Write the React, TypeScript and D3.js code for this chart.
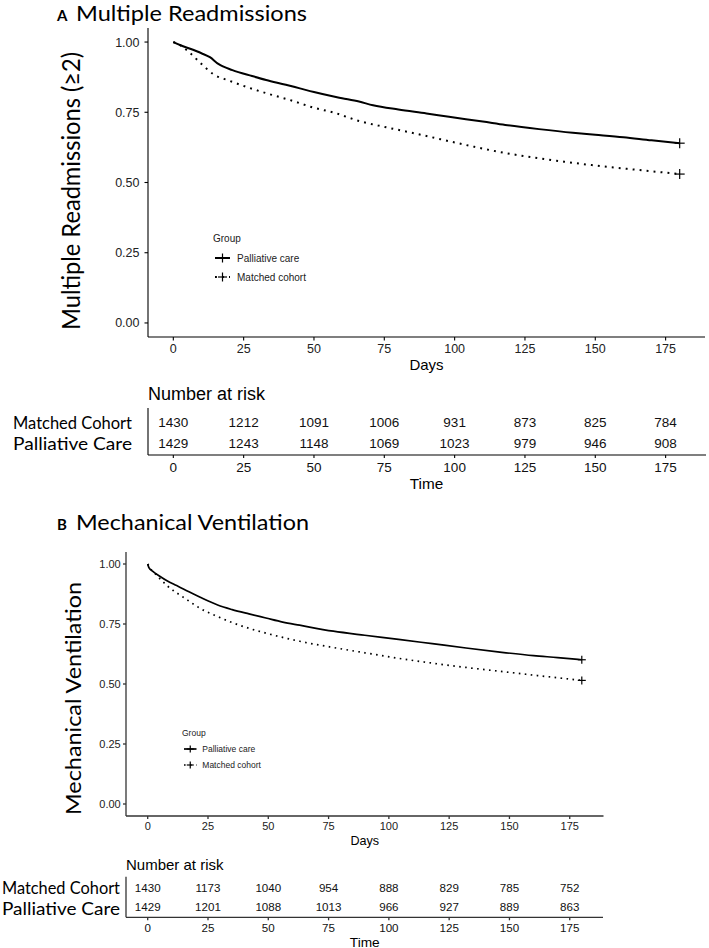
import React from 'react';
import * as d3 from 'd3';

// ---------------- data ----------------
const xTicks = [0, 25, 50, 75, 100, 125, 150, 175];
const yTicks = [0, 0.25, 0.5, 0.75, 1];
const riskTimes = [0, 25, 50, 75, 100, 125, 150, 175];
const groupNames = ['Palliative care', 'Matched cohort'];
const riskRowLabels = ['Matched Cohort', 'Palliative Care'];

// Panel A: Multiple readmissions (>=2)  [day, survival]
const readmitPalliative: [number, number][] = [
  [0, 1.0], [3, 0.987], [6, 0.976], [10, 0.96], [13, 0.946], [16, 0.922], [21, 0.9],
  [28, 0.879], [33, 0.865], [40, 0.848], [45, 0.835], [50, 0.822], [57, 0.806], [60, 0.8],
  [66, 0.788], [71, 0.775], [80, 0.76], [90, 0.746], [98, 0.734], [110, 0.717], [118, 0.705],
  [130, 0.69], [142, 0.677], [150, 0.67], [160, 0.661], [170, 0.65], [180, 0.64],
];
const readmitMatched: [number, number][] = [
  [0, 1.0], [3, 0.985], [5.5, 0.965], [10, 0.922], [14, 0.887], [20, 0.862], [27, 0.837],
  [35, 0.812], [42, 0.792], [50, 0.766], [57, 0.749], [66, 0.719], [75, 0.698], [83, 0.681],
  [95, 0.654], [107, 0.627], [118, 0.605], [130, 0.586], [142, 0.57], [154, 0.556],
  [165, 0.545], [180, 0.53],
];
const readmitRiskMatched = [1430, 1212, 1091, 1006, 931, 873, 825, 784];
const readmitRiskPalliative = [1429, 1243, 1148, 1069, 1023, 979, 946, 908];

// Panel B: Mechanical ventilation
const ventPalliative: [number, number][] = [
  [0, 1.0], [0.5, 0.985], [2, 0.97], [5, 0.949], [8, 0.93], [12, 0.91], [15, 0.895], [22, 0.86],
  [29, 0.829], [35, 0.81], [42, 0.792], [49, 0.775], [56, 0.758], [63, 0.745], [77, 0.72],
  [90, 0.703], [104, 0.686], [118, 0.668], [132, 0.65], [146, 0.633], [160, 0.618],
  [170, 0.61], [180, 0.601],
];
const ventMatched: [number, number][] = [
  [0, 1.0], [1.6, 0.975], [3.7, 0.953], [8, 0.91], [15, 0.86], [22, 0.814], [29, 0.781],
  [35, 0.756], [42, 0.732], [49, 0.712], [56, 0.694], [63, 0.678], [77, 0.652], [90, 0.63],
  [104, 0.607], [118, 0.587], [132, 0.569], [146, 0.553], [160, 0.537], [170, 0.526],
  [180, 0.515],
];
const ventRiskMatched = [1430, 1173, 1040, 954, 888, 829, 785, 752];
const ventRiskPalliative = [1429, 1201, 1088, 1013, 966, 927, 889, 863];

// ---------------- layout ----------------
const SANS = 'Liberation Sans, Arial, Helvetica, sans-serif';
const CAL = 'Lato, Carlito, Calibri, sans-serif';

const layoutA = {
  left: 148, right: 705, top: 28, bottom: 337,
  axisColor: '#000', axisW: 1.1,
  tickLen: 3.5, tickFont: 12.5, yLabRight: 139.5, xLabBase: 352.5,
  xTitle: 'Days', xTitleFont: 15, xTitleBase: 370,
  yTitleFont: 25, yTitleX: 80, yTitleCY: 191, yTitleLen: 278,
  titleBase: 21, titleLen: 231, titleFont: 21, letterFont: 15,
  lineW: 2, dash: '1.9,5.1', censor: 5,
  legX: 213, legFont: 10, legGroupBase: 241.6, legRows: [258, 277], keyW: 15, legTextDX: 24,
  riskTitleFont: 18, riskTitleBase: 399.5, rowLabRight: 132, rowLabFont: 18, rowLabLen: 119,
  rowLabBase: [429.4, 450.4], numFont: 13.5, numBase: [427, 448],
  tableTop: 408, tableBottom: 455, tableRight: 706, tableTickBase: 472,
  timeFont: 15.3, timeBase: 488.5,
};

const layoutB = {
  left: 126, right: 603.5, top: 552, bottom: 816,
  axisColor: '#333', axisW: 1.3,
  tickLen: 3, tickFont: 11, yLabRight: 120.7, xLabBase: 829.7,
  xTitle: 'Days', xTitleFont: 12.6, xTitleBase: 845,
  yTitleFont: 21, yTitleX: 80.5, yTitleCY: 698.5, yTitleLen: 233,
  titleBase: 530, titleLen: 233, titleFont: 21, letterFont: 15,
  lineW: 1.7, dash: '1.6,4.4', censor: 4,
  legX: 182, legFont: 8.5, legGroupBase: 735.8, legRows: [749, 765], keyW: 12.5, legTextDX: 20.3,
  riskTitleFont: 15, riskTitleBase: 869.7, rowLabRight: 120, rowLabFont: 18, rowLabLen: 118,
  rowLabBase: [894, 915.4], numFont: 11.6, numBase: [891.8, 910.8],
  tableTop: 876.7, tableBottom: 917.3, tableRight: 603, tableTickBase: 931.8,
  timeFont: 13.7, timeBase: 946.5,
};

type Layout = typeof layoutA;

function Panel(props: {
  L: Layout; letter: string; title: string; yTitle: string;
  pc: [number, number][]; mc: [number, number][]; riskMc: number[]; riskPc: number[];
}) {
  const { L, letter, title, yTitle, pc, mc, riskMc, riskPc } = props;
  const x = d3.scaleLinear().domain([-9, 189]).range([L.left, L.right]);
  const y = d3.scaleLinear().domain([-0.05, 1.05]).range([L.bottom, L.top]);
  const line = d3.line<[number, number]>().x(d => x(d[0])).y(d => y(d[1])).curve(d3.curveMonotoneX);
  const fmt = d3.format('.2f');
  const last = (a: [number, number][]) => a[a.length - 1];
  const cross = (cx: number, cy: number, s: number, key: string) => (
    <g key={key} stroke="#000" strokeWidth={1.2}>
      <line x1={cx - s} x2={cx + s} y1={cy} y2={cy} />
      <line x1={cx} x2={cx} y1={cy - s} y2={cy + s} />
    </g>
  );
  const pcEnd = last(pc);
  const mcEnd = last(mc);
  return (
    <g>
      {/* title */}
      <text x={57} y={L.titleBase} fontFamily={CAL} fontWeight={700} fontSize={L.letterFont}>{letter}</text>
      <text x={76} y={L.titleBase} fontFamily={CAL} fontWeight={400} fontSize={L.titleFont} textLength={L.titleLen}
        lengthAdjust="spacingAndGlyphs">{title}</text>

      {/* y title */}
      <text transform={`translate(${L.yTitleX},${L.yTitleCY}) rotate(-90)`} textAnchor="middle"
        fontFamily={CAL} fontWeight={400} fontSize={L.yTitleFont} textLength={L.yTitleLen}
        lengthAdjust="spacingAndGlyphs">{yTitle}</text>

      {/* axes */}
      <line x1={L.left} x2={L.left} y1={L.top} y2={L.bottom} stroke={L.axisColor} strokeWidth={L.axisW} />
      <line x1={L.left} x2={L.right} y1={L.bottom} y2={L.bottom} stroke={L.axisColor} strokeWidth={L.axisW} />
      {yTicks.map(t => (
        <g key={'yt' + t}>
          <line x1={L.left - L.tickLen} x2={L.left} y1={y(t)} y2={y(t)} stroke={L.axisColor} strokeWidth={L.axisW} />
          <text x={L.yLabRight} y={y(t) + L.tickFont * 0.36} textAnchor="end" fontFamily={SANS}
            fontSize={L.tickFont} fill="#222">{fmt(t)}</text>
        </g>
      ))}
      {xTicks.map(t => (
        <g key={'xt' + t}>
          <line x1={x(t)} x2={x(t)} y1={L.bottom} y2={L.bottom + L.tickLen} stroke={L.axisColor} strokeWidth={L.axisW} />
          <text x={x(t)} y={L.xLabBase} textAnchor="middle" fontFamily={SANS} fontSize={L.tickFont} fill="#222">{t}</text>
        </g>
      ))}
      <text x={(L.left + L.right) / 2} y={L.xTitleBase} textAnchor="middle" fontFamily={SANS}
        fontSize={L.xTitleFont}>{L.xTitle}</text>

      {/* curves */}
      <path d={line(pc) || ''} fill="none" stroke="#000" strokeWidth={L.lineW} strokeLinejoin="round" />
      <path d={line(mc) || ''} fill="none" stroke="#000" strokeWidth={L.lineW} strokeDasharray={L.dash} />
      {cross(x(pcEnd[0]), y(pcEnd[1]), L.censor, 'c1')}
      {cross(x(mcEnd[0]), y(mcEnd[1]), L.censor, 'c2')}

      {/* legend */}
      <text x={L.legX} y={L.legGroupBase} fontFamily={SANS} fontSize={L.legFont} fill="#222">Group</text>
      {groupNames.map((g, i) => {
        const cy = L.legRows[i];
        const x0 = L.legX + 2;
        return (
          <g key={g}>
            <line x1={x0} x2={x0 + L.keyW} y1={cy} y2={cy} stroke="#000" strokeWidth={L.lineW}
              strokeDasharray={i === 1 ? L.dash : undefined} />
            {cross(x0 + L.keyW / 2, cy, L.censor - 0.5, 'lc' + i)}
            <text x={L.legX + L.legTextDX} y={cy + L.legFont * 0.36} fontFamily={SANS} fontSize={L.legFont}
              fill="#222">{g}</text>
          </g>
        );
      })}

      {/* risk table */}
      <text x={L.left} y={L.riskTitleBase} fontFamily={SANS} fontSize={L.riskTitleFont}>Number at risk</text>
      {riskRowLabels.map((r, i) => (
        <text key={r} x={L.rowLabRight} y={L.rowLabBase[i]} textAnchor="end" fontFamily={CAL} fontWeight={400}
          fontSize={L.rowLabFont} textLength={L.rowLabLen} lengthAdjust="spacingAndGlyphs">{r}</text>
      ))}
      {[riskMc, riskPc].map((row, i) => row.map((v, j) => (
        <text key={'n' + i + '-' + j} x={x(riskTimes[j])} y={L.numBase[i]} textAnchor="middle"
          fontFamily={SANS} fontSize={L.numFont} fill="#111">{v}</text>
      )))}
      <line x1={L.left} x2={L.left} y1={L.tableTop} y2={L.tableBottom} stroke={L.axisColor} strokeWidth={L.axisW} />
      <line x1={L.left} x2={L.tableRight} y1={L.tableBottom} y2={L.tableBottom} stroke={L.axisColor} strokeWidth={L.axisW} />
      {riskTimes.map(t => (
        <g key={'rt' + t}>
          <line x1={x(t)} x2={x(t)} y1={L.tableBottom} y2={L.tableBottom + 3} stroke={L.axisColor} strokeWidth={L.axisW} />
          <text x={x(t)} y={L.tableTickBase} textAnchor="middle" fontFamily={SANS} fontSize={L.numFont}
            fill="#111">{t}</text>
        </g>
      ))}
      <text x={(L.left + L.right) / 2} y={L.timeBase} textAnchor="middle" fontFamily={SANS}
        fontSize={L.timeFont}>Time</text>
    </g>
  );
}

export default function App() {
  return (
    <svg width={709} height={948} viewBox="0 0 709 948"
      style={{ position: 'absolute', left: 0, top: 0, display: 'block', background: '#fff' }}>
      <rect x={0} y={0} width={709} height={948} fill="#fff" />
      <Panel L={layoutA} letter="A" title="Multiple Readmissions" yTitle="Multiple Readmissions (≥2)"
        pc={readmitPalliative} mc={readmitMatched} riskMc={readmitRiskMatched} riskPc={readmitRiskPalliative} />
      <Panel L={layoutB as Layout} letter="B" title="Mechanical Ventilation" yTitle="Mechanical Ventilation"
        pc={ventPalliative} mc={ventMatched} riskMc={ventRiskMatched} riskPc={ventRiskPalliative} />
    </svg>
  );
}
